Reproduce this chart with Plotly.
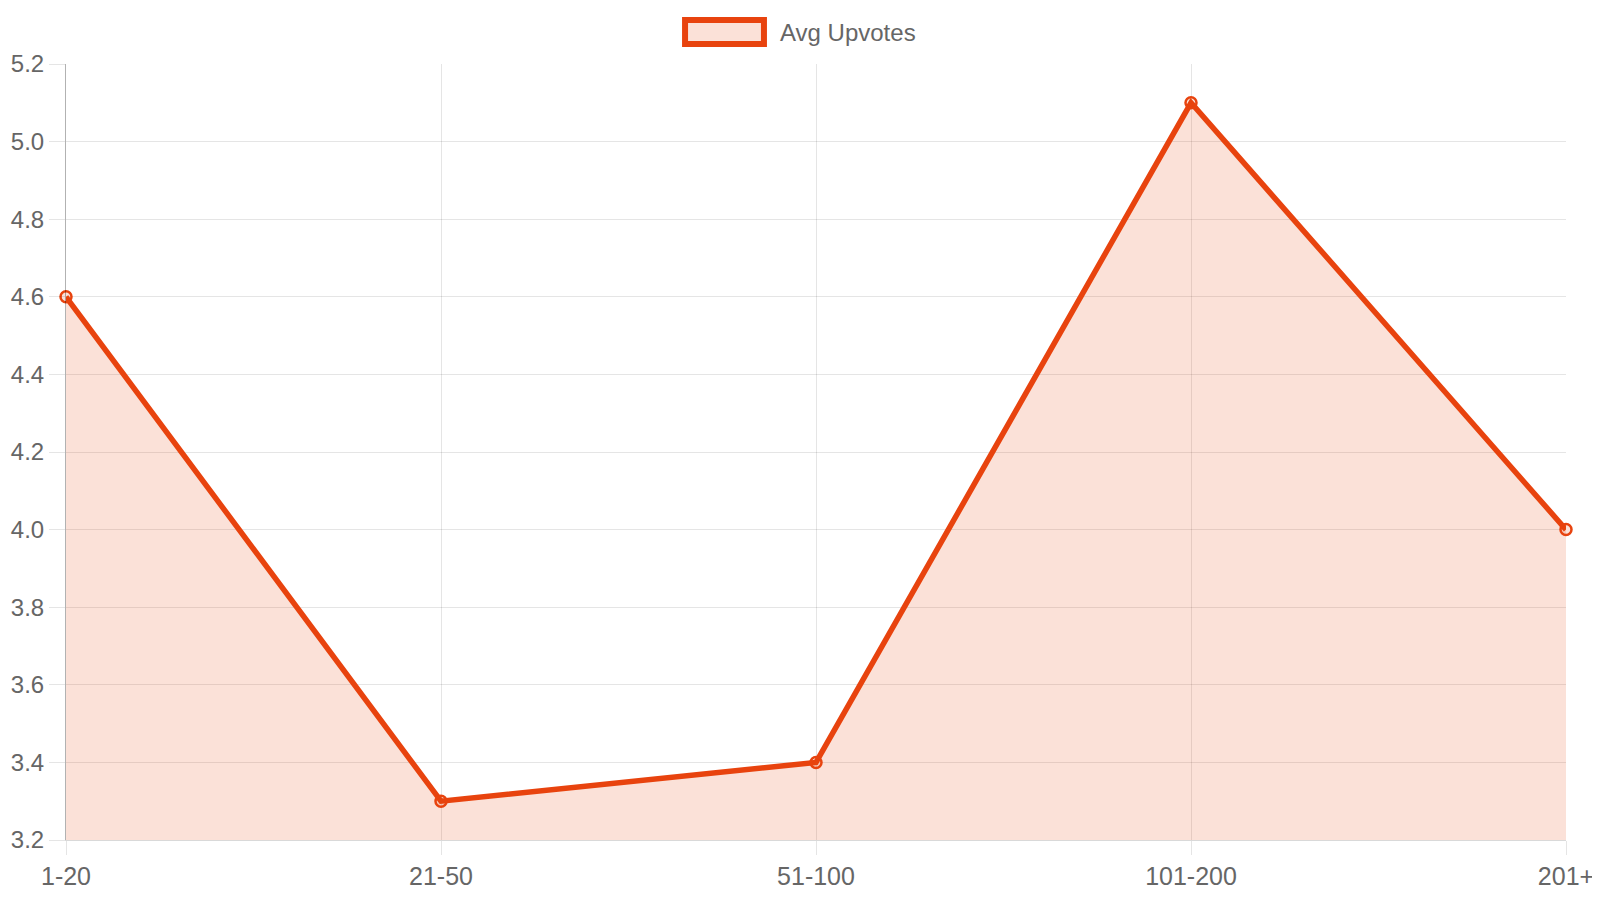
import plotly.graph_objects as go

# data
categories = ["1-20", "21-50", "51-100", "101-200", "201+"]
avg_upvotes = [4.6, 3.3, 3.4, 5.1, 4.0]
series_name = "Avg Upvotes"

line_color = "rgb(232,67,14)"
fill_color = "rgba(232,67,14,0.16)"
font = dict(family="Liberation Sans, Arial, sans-serif", size=24, color="#666666")
tick_font = dict(font, size=25)

fig = go.Figure()
fig.add_trace(go.Scatter(
    x=categories,
    y=avg_upvotes,
    name=series_name,
    mode="lines+markers",
    fill="tozeroy",
    fillcolor=fill_color,
    line=dict(color=line_color, width=5.5),
    marker=dict(size=11, color=fill_color, line=dict(color=line_color, width=2.5)),
    showlegend=False,
    cliponaxis=False,
))

# legend drawn by hand to look like the original
fig.add_shape(type="rect", xref="paper", yref="paper",
              x0=0.4127, x1=0.4653, y0=1.0258, y1=1.0567,
              line=dict(color=line_color, width=6), fillcolor=fill_color)
fig.add_annotation(text=series_name, xref="paper", yref="paper",
                   x=0.4747, y=1.0412, xanchor="left", yanchor="middle",
                   showarrow=False, font=font)

fig.update_xaxes(
    type="category", range=[0, len(categories) - 1],
    showgrid=True, gridcolor="rgba(0,0,0,0.1)", gridwidth=1,
    ticks="outside", ticklen=14, tickcolor="rgba(0,0,0,0.1)",
    showline=True, linecolor="rgba(0,0,0,0.15)", linewidth=1,
    tickfont=tick_font, zeroline=False, automargin=False,
)
fig.update_yaxes(
    range=[3.2, 5.2], dtick=0.2, tickformat=".1f",
    showgrid=True, gridcolor="rgba(0,0,0,0.1)", gridwidth=1,
    ticks="outside", ticklen=16, tickcolor="rgba(0,0,0,0.1)",
    showline=True, linecolor="rgba(0,0,0,0.3)", linewidth=1,
    tickfont=font, zeroline=False, automargin=False,
)
# page body adds an 8px offset, so the figure is 8px smaller on each side
fig.update_layout(
    width=1592, height=892,
    margin=dict(l=58, r=34, t=56, b=60),
    plot_bgcolor="white", paper_bgcolor="white",
    font=font,
)

fig.write_html("out.html")
